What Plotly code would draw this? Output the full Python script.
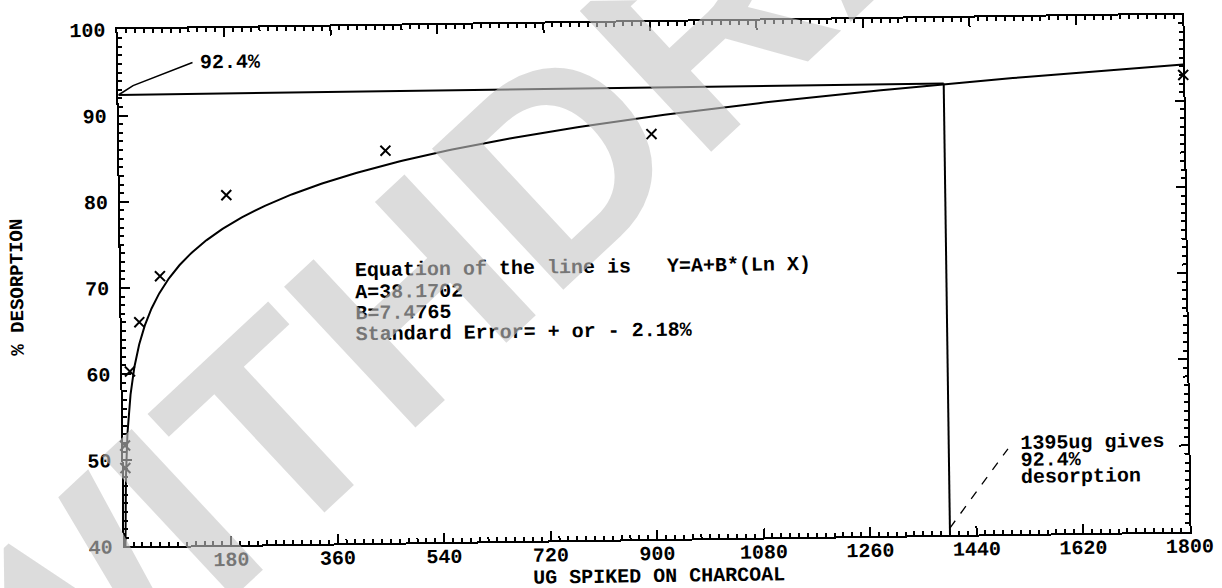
import numpy as np
import plotly.graph_objects as go

# Spiked amount on charcoal (ug) and measured desorption (%)
ug_spiked = [3, 3, 13, 30, 66, 180, 450, 900, 1800]
pct_desorption = [49.1, 51.7, 60.3, 66.0, 71.3, 80.6, 85.5, 87.0, 93.0]

# Fitted line Y = A + B*ln(X)
coef_a = 38.1702
coef_b = 7.4765
std_error = 2.18

# Reading taken off the fitted line
target_ug = 1395
target_pct = 92.4

x_ticks = [180, 360, 540, 720, 900, 1080, 1260, 1440, 1620, 1800]
y_ticks = [40, 50, 60, 70, 80, 90, 100]

X_MAX = 1800
Y_MIN, Y_MAX = 40, 100

FONT = "Liberation Mono"
INK = "black"

# fitted curve, from where it leaves the bottom of the frame up to X_MAX
x_start = np.exp((Y_MIN - coef_a) / coef_b)
x_fit = np.geomspace(x_start, X_MAX, 500)
y_fit = coef_a + coef_b * np.log(x_fit)

fig = go.Figure()

fig.add_trace(go.Scatter(x=x_fit, y=y_fit, mode="lines",
                         line=dict(color=INK, width=2), hoverinfo="skip"))

# horizontal reading line at the target % and the drop line at the target ug
fig.add_trace(go.Scatter(x=[0, target_ug], y=[target_pct, target_pct], mode="lines",
                         line=dict(color=INK, width=2), hoverinfo="skip"))
fig.add_trace(go.Scatter(x=[target_ug, target_ug], y=[Y_MIN, target_pct], mode="lines",
                         line=dict(color=INK, width=2), hoverinfo="skip"))

# measured points
fig.add_trace(go.Scatter(x=ug_spiked, y=pct_desorption, mode="markers",
                         marker=dict(symbol="x-thin", size=10, color=INK,
                                     line=dict(color=INK, width=2)),
                         cliponaxis=False))

# leader lines for the two call-outs
fig.add_shape(type="path", xref="x", yref="y",
              path=f"M 0 {target_pct} L 25 93.46 L 126 96.05",
              line=dict(color=INK, width=1.6))
fig.add_shape(type="line", xref="x", yref="y",
              x0=target_ug, y0=40.8, x1=1495, y1=49.9,
              line=dict(color=INK, width=1.3, dash="dash"))

txt = dict(family=FONT, size=20, color=INK, weight="bold")

def note(x, y, text):
    fig.add_annotation(x=x, y=y, xref="x", yref="y", text=text, showarrow=False,
                       xanchor="left", yanchor="middle", font=txt)

note(136, 96.0, f"{target_pct}%")

eq_lines = [
    "Equation of the line is   Y=A+B*(Ln X)",
    f"A={coef_a:.4f}",
    f"B={coef_b:.4f}",
    f"Standard Error= + or - {std_error:.2f}%",
]
for text, y in zip(eq_lines, [71.6, 69.1, 66.6, 64.2]):
    note(392, y, text)

for text, y in zip([f"{target_ug}ug gives", f"{target_pct}%", "desorption"],
                   [50.55, 48.55, 46.6]):
    note(1512, y, text)

# axis titles
fig.add_annotation(x=0.501, y=-0.0735, xref="paper", yref="paper",
                   text="UG SPIKED ON CHARCOAL", showarrow=False,
                   xanchor="center", yanchor="middle", font=txt)
fig.add_annotation(x=-0.097, y=0.505, xref="paper", yref="paper",
                   text="% DESORPTION", showarrow=False, textangle=-90,
                   xanchor="center", yanchor="middle",
                   font=dict(family=FONT, size=19, color=INK, weight="bold"))

# stamped watermark across the sheet
fig.add_annotation(x=0.46, y=0.823, xref="paper", yref="paper",
                   text="WITHDRAWN", showarrow=False, textangle=-42.2,
                   xanchor="center", yanchor="middle",
                   font=dict(family="Liberation Sans", size=280, weight="bold",
                             color="rgba(197,197,197,0.6)"))

axis_common = dict(
    showline=True, linewidth=2, linecolor=INK, mirror="ticks",
    ticks="inside", ticklen=9, tickwidth=2, tickcolor=INK,
    showgrid=False, zeroline=False,
    tickfont=dict(family=FONT, size=20, color=INK, weight="bold"),
)

fig.update_xaxes(range=[0, X_MAX], tickmode="array", tickvals=x_ticks,
                 ticklabelstandoff=-5,
                 minor=dict(tick0=0, dtick=15, ticks="inside", ticklen=4,
                            tickwidth=1.5, tickcolor=INK, showgrid=False),
                 **axis_common)
fig.update_yaxes(range=[Y_MIN, Y_MAX], tickmode="array", tickvals=y_ticks,
                 ticklabelstandoff=6,
                 minor=dict(tick0=0, dtick=1, ticks="inside", ticklen=4,
                            tickwidth=1.5, tickcolor=INK, showgrid=False),
                 **axis_common)

fig.update_layout(
    width=1222, height=588,
    margin=dict(l=121, r=32, t=17, b=49),
    paper_bgcolor="white", plot_bgcolor="white",
    showlegend=False,
)

# the sheet sits slightly askew
tilt = """
document.documentElement.style.overflow = 'hidden';
document.body.style.overflow = 'hidden';
var gd = document.getElementById('{plot_id}');
gd.style.transformOrigin = '655px 278px';
gd.style.transform = 'rotate(-0.8deg)';
"""

fig.write_html("out.html", post_script=tilt)
